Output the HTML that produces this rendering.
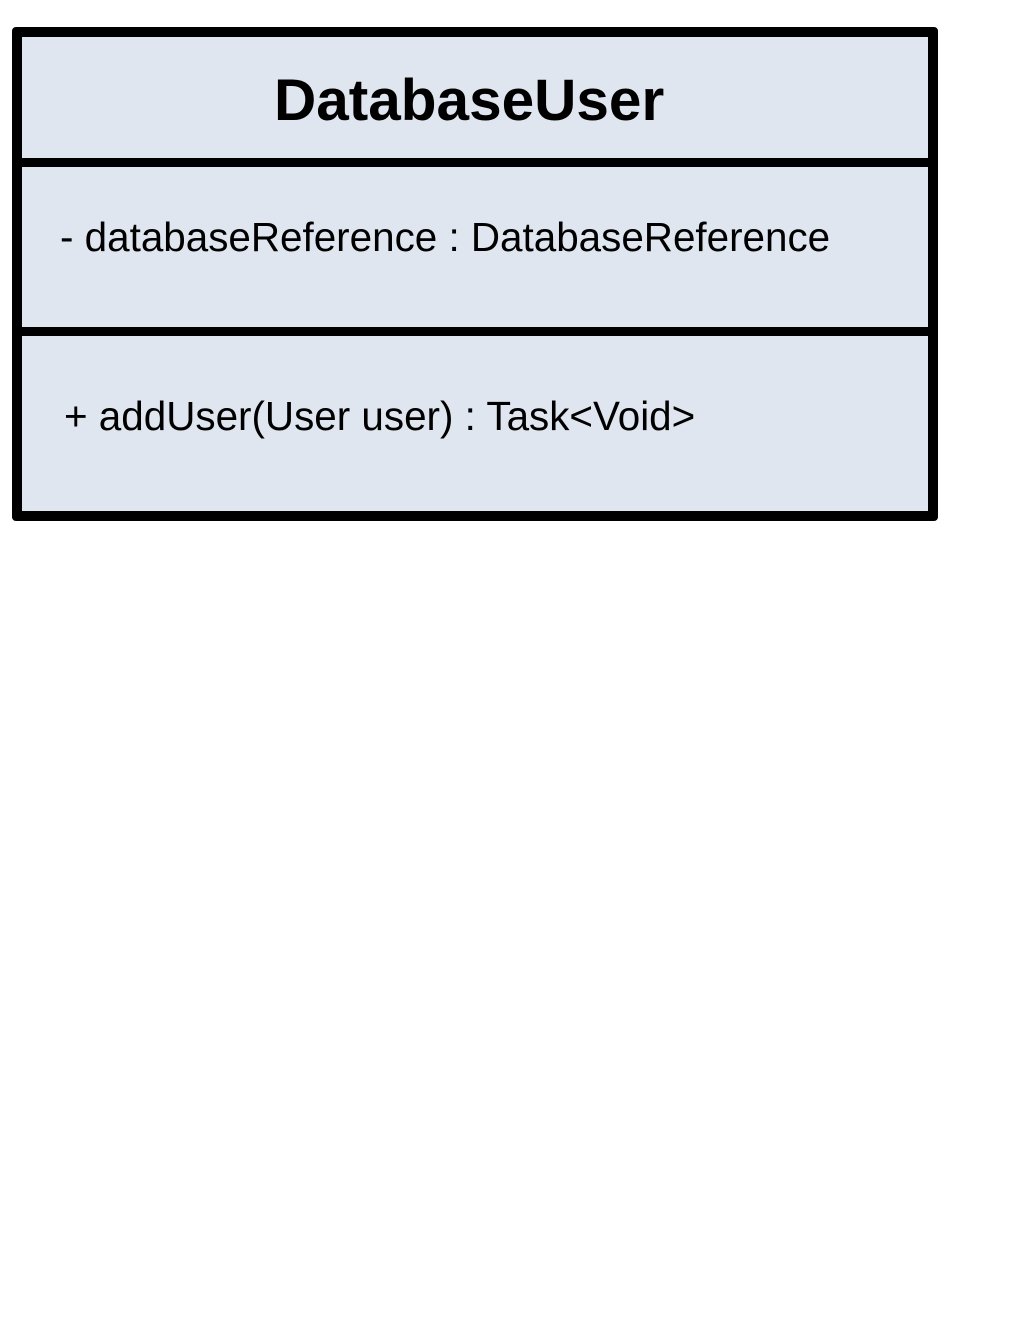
<!DOCTYPE html>
<html><head><style>
body{margin:0;width:1020px;height:1320px;background:#fff;position:relative;font-family:"Liberation Sans",sans-serif;}
.box{position:absolute;left:12px;top:27px;width:906px;height:474px;border:10px solid #000;border-radius:4px;background:#dfe6ef;}
.hr{position:absolute;left:0;width:906px;height:9px;background:#000;}
.t{position:absolute;white-space:nowrap;color:#000;}
</style></head><body>
<div class="box">
<div class="hr" style="top:121px"></div>
<div class="hr" style="top:290px"></div>
</div>
<div class="t" style="left:274px;top:67px;font-size:58.5px;font-weight:bold;">DatabaseUser</div>
<div class="t" style="left:60px;top:214px;font-size:40.4px;">- databaseReference : DatabaseReference</div>
<div class="t" style="left:64px;top:393px;font-size:40.4px;">+ addUser(User user) : Task&lt;Void&gt;</div>
</body></html>
